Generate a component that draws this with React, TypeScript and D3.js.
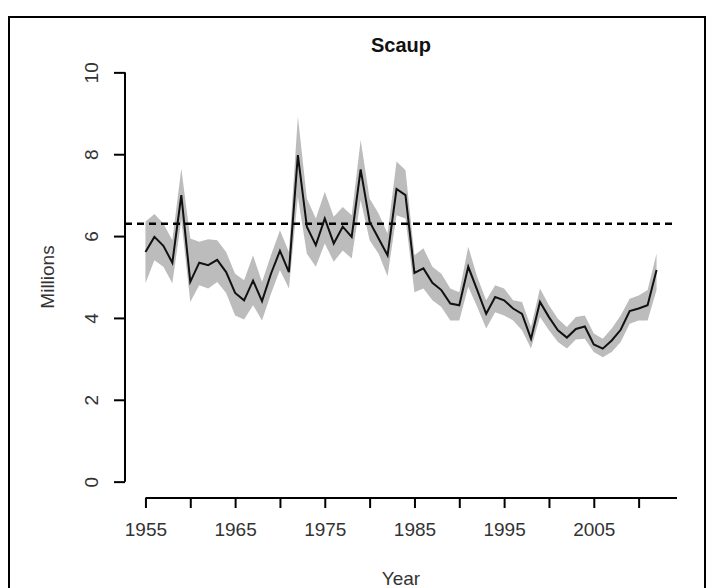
import React, { useRef, useEffect } from "react";
import * as d3 from "d3";

const years = [
  1955, 1956, 1957, 1958, 1959, 1960, 1961, 1962, 1963, 1964,
  1965, 1966, 1967, 1968, 1969, 1970, 1971, 1972, 1973, 1974,
  1975, 1976, 1977, 1978, 1979, 1980, 1981, 1982, 1983, 1984,
  1985, 1986, 1987, 1988, 1989, 1990, 1991, 1992, 1993, 1994,
  1995, 1996, 1997, 1998, 1999, 2000, 2001, 2002, 2003, 2004,
  2005, 2006, 2007, 2008, 2009, 2010, 2011, 2012,
];

const estimate = [
  5.61, 5.98, 5.76, 5.35, 7.0, 4.88, 5.35, 5.29, 5.42, 5.12,
  4.61, 4.43, 4.91, 4.41, 5.08, 5.64, 5.12, 7.98, 6.23, 5.78,
  6.43, 5.82, 6.23, 5.98, 7.63, 6.35, 5.94, 5.53, 7.15, 7.0,
  5.1, 5.21, 4.86, 4.68, 4.35, 4.31, 5.25, 4.68, 4.1, 4.51,
  4.43, 4.23, 4.1, 3.49, 4.39, 4.02, 3.7, 3.52, 3.73, 3.79,
  3.35, 3.25, 3.45, 3.71, 4.17, 4.23, 4.31, 5.17,
];

const lower = [
  4.85, 5.41, 5.25, 4.85, 6.39, 4.39, 4.8, 4.72, 4.88, 4.61,
  4.06, 3.96, 4.31, 3.94, 4.59, 5.17, 4.72, 6.96, 5.57, 5.25,
  5.82, 5.37, 5.65, 5.45, 6.88, 5.9, 5.57, 5.02, 6.51, 6.43,
  4.63, 4.72, 4.43, 4.27, 3.94, 3.94, 4.76, 4.27, 3.74, 4.14,
  4.06, 3.94, 3.7, 3.25, 4.02, 3.7, 3.41, 3.25, 3.47, 3.49,
  3.17, 3.04, 3.17, 3.41, 3.86, 3.94, 3.94, 4.68,
];

const upper = [
  6.35, 6.54, 6.31, 5.9, 7.65, 5.94, 5.86, 5.92, 5.9, 5.61,
  5.08, 4.92, 5.53, 4.88, 5.53, 6.14, 5.61, 8.92, 6.92, 6.43,
  7.08, 6.47, 6.71, 6.51, 8.35, 6.92, 6.55, 6.06, 7.82, 7.61,
  5.53, 5.7, 5.25, 5.08, 4.72, 4.63, 5.74, 5.0, 4.43, 4.8,
  4.72, 4.43, 4.39, 3.78, 4.72, 4.31, 3.98, 3.78, 4.02, 4.06,
  3.62, 3.49, 3.74, 4.06, 4.47, 4.55, 4.68, 5.57,
];

const target = 6.3;
const xTicks = [1955, 1960, 1965, 1970, 1975, 1980, 1985, 1990, 1995, 2000, 2005, 2010];
const xLabels = [1955, 1965, 1975, 1985, 1995, 2005];
const yTicks = [0, 2, 4, 6, 8, 10];

const W = 707;
const H = 588;
const font = "'Liberation Sans', Arial, Helvetica, sans-serif";
const textColor = "#333";

const App: React.FC = () => {
  const svgRef = useRef<SVGSVGElement | null>(null);

  useEffect(() => {
    document.body.style.margin = "0";
    const svg = d3.select(svgRef.current);
    svg.selectAll("*").remove();

    const rows = years.map((yr, i) => ({
      yr,
      est: estimate[i],
      lo: lower[i],
      hi: upper[i],
    }));

    // R-style 4% padding around the data range
    const x = d3.scaleLinear().domain([1952.72, 2014.28]).range([125, 677]);
    const y = d3.scaleLinear().domain([-0.4, 10.4]).range([498, 56]);

    svg.append("rect").attr("width", W).attr("height", H).attr("fill", "#fff");

    // outer frame
    svg
      .append("rect")
      .attr("x", 9)
      .attr("y", 17)
      .attr("width", 696)
      .attr("height", 590)
      .attr("fill", "none")
      .attr("stroke", "#000")
      .attr("stroke-width", 2);

    // confidence band
    const band = d3
      .area<any>()
      .x((d) => x(d.yr))
      .y0((d) => y(d.lo))
      .y1((d) => y(d.hi));

    svg.append("path").datum(rows).attr("fill", "#bcbcbc").attr("d", band);

    // target line
    svg
      .append("line")
      .attr("x1", x.range()[0])
      .attr("x2", x.range()[1])
      .attr("y1", y(target))
      .attr("y2", y(target))
      .attr("stroke", "#000")
      .attr("stroke-width", 2.5)
      .attr("stroke-dasharray", "7,5");

    const line = d3
      .line<any>()
      .x((d) => x(d.yr))
      .y((d) => y(d.est));

    svg
      .append("path")
      .datum(rows)
      .attr("fill", "none")
      .attr("stroke", "#111")
      .attr("stroke-width", 2)
      .attr("d", line);

    // X axis
    const xAxis = svg
      .append("g")
      .attr("transform", `translate(0,${y(-0.4)})`)
      .call(
        d3
          .axisBottom(x)
          .tickValues(xTicks)
          .tickSize(10)
          .tickFormat((d) => (xLabels.includes(+d) ? String(d) : ""))
      );
    xAxis.select(".domain").remove();
    xAxis
      .append("line")
      .attr("x1", x(1955))
      .attr("x2", x.range()[1])
      .attr("stroke", "#000")
      .attr("stroke-width", 2);
    xAxis.selectAll("line").attr("stroke", "#000").attr("stroke-width", 2);
    xAxis
      .selectAll("text")
      .attr("y", 25)
      .attr("dy", "0.71em")
      .style("font-family", font)
      .style("font-size", "19px")
      .style("fill", textColor);

    // Y axis
    const yAxis = svg
      .append("g")
      .attr("transform", `translate(${x.range()[0]},0)`)
      .call(d3.axisLeft(y).tickValues(yTicks).tickSize(11));
    yAxis.select(".domain").remove();
    yAxis
      .append("line")
      .attr("y1", y(0))
      .attr("y2", y(10))
      .attr("stroke", "#000")
      .attr("stroke-width", 2);
    yAxis.selectAll("line").attr("stroke", "#000").attr("stroke-width", 2);
    yAxis
      .selectAll(".tick text")
      .attr("x", 0)
      .attr("dy", 0)
      .attr("transform", "translate(-27,0) rotate(-90)")
      .attr("text-anchor", "middle")
      .style("font-family", font)
      .style("font-size", "19px")
      .style("fill", textColor);

    // title + axis labels
    svg
      .append("text")
      .attr("x", 401)
      .attr("y", 52)
      .attr("text-anchor", "middle")
      .style("font-family", font)
      .style("font-size", "20px")
      .style("font-weight", "bold")
      .style("fill", "#111")
      .text("Scaup");

    svg
      .append("text")
      .attr("transform", `translate(54,${y(5)}) rotate(-90)`)
      .attr("text-anchor", "middle")
      .style("font-family", font)
      .style("font-size", "19px")
      .style("fill", textColor)
      .text("Millions");

    svg
      .append("text")
      .attr("x", 401)
      .attr("y", 585)
      .attr("text-anchor", "middle")
      .style("font-family", font)
      .style("font-size", "19px")
      .style("fill", textColor)
      .text("Year");
  }, []);

  return <svg ref={svgRef} width={W} height={H} style={{ display: "block" }}></svg>;
};

export default App;
